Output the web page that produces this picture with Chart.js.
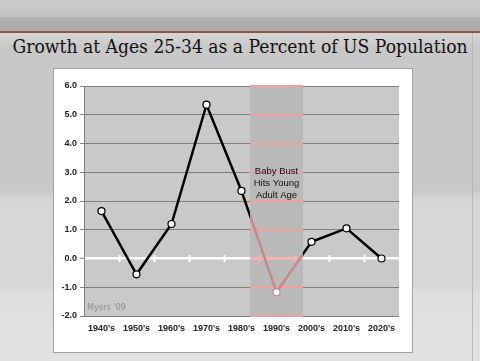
<!DOCTYPE html>
<html>
<head>
<meta charset="utf-8">
<script src="https://cdn.jsdelivr.net/npm/chart.js@4/dist/chart.umd.min.js"></script>
<style>
  html,body{margin:0;padding:0;}
  body{width:480px;height:361px;overflow:hidden;position:relative;
    background:linear-gradient(to bottom,#c8c8c8 0px,#c8c8c8 190px,#d6d6d6 200px,#d8d8d8 285px,#dfdfdf 295px,#e2e2e2 361px);}
  #band{position:absolute;left:0;top:0;width:480px;height:31px;
    background:linear-gradient(to bottom,#cbcbcb 0px,#c4c4c4 16px,#b0b0b0 18px,#aaaaaa 30px);}
  #rule{position:absolute;left:0;top:31px;width:480px;height:2px;background:#8c5444;}
  #under{position:absolute;left:0;top:33px;width:480px;height:12px;background:linear-gradient(to bottom,#d6d6d6,#cbcbcb);}
  #strip{position:absolute;left:472px;top:33px;width:1px;height:328px;background:#b9b9b9;}
  #title{position:absolute;left:-160px;top:35px;width:800px;text-align:center;white-space:nowrap;
    font-family:"DejaVu Serif",serif;font-size:18.5px;color:#111;line-height:24px;}
  #title span{display:inline-block;transform-origin:center;}
  #panel{position:absolute;left:53px;top:68px;width:358px;height:283px;background:#fff;border:1px solid #a2a2a2;}
  #c{position:absolute;left:0;top:0;}
</style>
</head>
<body>
<div id="band"></div><div id="rule"></div><div id="under"></div><div id="strip"></div>
<div id="title"><span id="tt">Growth at Ages 25-34 as a Percent of US Population</span></div>
<div id="panel"><canvas id="c" width="358" height="283"></canvas></div>
<script>
const categories = ["1940's","1950's","1960's","1970's","1980's","1990's","2000's","2010's","2020's"];
const growth = [1.65, -0.55, 1.2, 5.35, 2.35, -1.17, 0.58, 1.05, 0.0];
const yTicks = [6, 5, 4, 3, 2, 1, 0, -1, -2];
const highlightIndex = 5;
const noteLines = ["Baby Bust", "Hits Young", "Adult Age"];
const sourceNote = "Myers '09";

(function(){
  const s = document.getElementById('tt');
  const w = s.getBoundingClientRect().width;
  s.style.transform = 'scaleX(' + (455 / w) + ')';
})();

function bandRange(chart){
  const x = chart.scales.x;
  const step = x.getPixelForValue(1) - x.getPixelForValue(0);
  const c = x.getPixelForValue(highlightIndex);
  return [Math.round(c - 0.745 * step), Math.round(c + 0.745 * step)];
}
function hGrad(chart, outside, inside){
  const [a, b] = bandRange(chart);
  const W = chart.width;
  const g = chart.ctx.createLinearGradient(0, 0, W, 0);
  const fa = a / W, fb = b / W;
  g.addColorStop(0, outside);
  g.addColorStop(fa, outside);
  g.addColorStop(fa + 0.0005, inside);
  g.addColorStop(fb, inside);
  g.addColorStop(fb + 0.0005, outside);
  g.addColorStop(1, outside);
  return g;
}

const bgPlugin = {
  id: 'bgPlugin',
  beforeDraw(chart){
    const {ctx, chartArea: ca} = chart;
    ctx.save();
    ctx.fillStyle = '#c9c9c9';
    ctx.fillRect(ca.left, ca.top, ca.right - ca.left, ca.bottom - ca.top);
    const [a, b] = bandRange(chart);
    ctx.fillStyle = '#b9b9b9';
    ctx.fillRect(a, ca.top, b - a, ca.bottom - ca.top);
    ctx.restore();
  },
  beforeDatasetsDraw(chart){
    const {ctx, chartArea: ca, scales:{x, y}} = chart;
    const [a, b] = bandRange(chart);
    const y0 = y.getPixelForValue(0);
    ctx.save();
    yTicks.forEach(v => {
      const py = y.getPixelForValue(v);
      ctx.fillStyle = v === 0 ? '#f4b4b4' : '#f0a0a0';
      const h = v === 0 ? 3 : 2;
      ctx.fillRect(a, Math.round(py - h / 2), b - a, h);
    });
    ctx.lineWidth = 2;
    for (let i = 0; i < categories.length - 1; i++) {
      const px = Math.round((x.getPixelForValue(i) + x.getPixelForValue(i + 1)) / 2) + 0.5;
      ctx.strokeStyle = (px > a && px < b) ? '#f4b4b4' : '#ffffff';
      ctx.beginPath();
      ctx.moveTo(px, y0 - 3.5);
      ctx.lineTo(px, y0 + 3.5);
      ctx.stroke();
    }
    ctx.restore();
  },
  afterDraw(chart){
    const {ctx, chartArea: ca, scales:{x, y}} = chart;
    ctx.save();
    ctx.fillStyle = '#111';
    ctx.font = '9.5px "Liberation Sans", Arial, sans-serif';
    ctx.textAlign = 'center';
    ctx.textBaseline = 'middle';
    const cx = x.getPixelForValue(highlightIndex);
    const top = y.getPixelForValue(3) - 1;
    noteLines.forEach((t, i) => ctx.fillText(t, cx, top + i * 12));
    ctx.fillStyle = '#8c8c8c';
    ctx.font = '8px "DejaVu Sans", sans-serif';
    ctx.textAlign = 'left';
    ctx.fillText(sourceNote, ca.left + 3, ca.bottom - 8);
    ctx.restore();
  }
};

new Chart(document.getElementById('c'), {
  type: 'line',
  data: {
    labels: categories,
    datasets: [{
      data: growth,
      borderColor: (ctx) => ctx.chart.chartArea ? hGrad(ctx.chart, '#000000', '#c48888') : '#000',
      borderWidth: 2.5,
      tension: 0,
      pointRadius: 3.5,
      pointHoverRadius: 3.5,
      pointBackgroundColor: '#ffffff',
      pointBorderColor: (ctx) => ctx.dataIndex === highlightIndex ? '#c48888' : '#000000',
      pointBorderWidth: 1.2
    }]
  },
  options: {
    responsive: false,
    animation: false,
    events: [],
    layout: {padding: {left: 0, top: 17, right: 13, bottom: 0}},
    plugins: {legend: {display: false}, tooltip: {enabled: false}},
    scales: {
      x: {
        type: 'category',
        offset: true,
        grid: {display: false, drawTicks: false},
        border: {display: false},
        ticks: {color: '#222', padding: 7, font: {family: '"Liberation Sans", Arial, sans-serif', size: 9, weight: 'bold'}, maxRotation: 0, autoSkip: false},
        afterFit(s){ s.height = 36; }
      },
      y: {
        min: -2, max: 6,
        afterBuildTicks(s){ s.ticks = yTicks.map(v => ({value: v})); },
        grid: {
          color: (ctx) => ctx.tick && ctx.tick.value === 0 ? '#ffffff' : '#7e7e7e',
          lineWidth: (ctx) => ctx.tick && ctx.tick.value === 0 ? 2.5 : 1,
          tickColor: '#808080',
          tickLength: 4,
          tickWidth: 1
        },
        border: {display: true, color: '#808080', width: 1},
        ticks: {
          color: '#222',
          padding: 3,
          font: {family: '"Liberation Sans", Arial, sans-serif', size: 9, weight: 'bold'},
          callback: (v) => Number(v).toFixed(1)
        },
        afterFit(s){ s.width = 30; }
      }
    }
  },
  plugins: [bgPlugin]
});
</script>
</body>
</html>
